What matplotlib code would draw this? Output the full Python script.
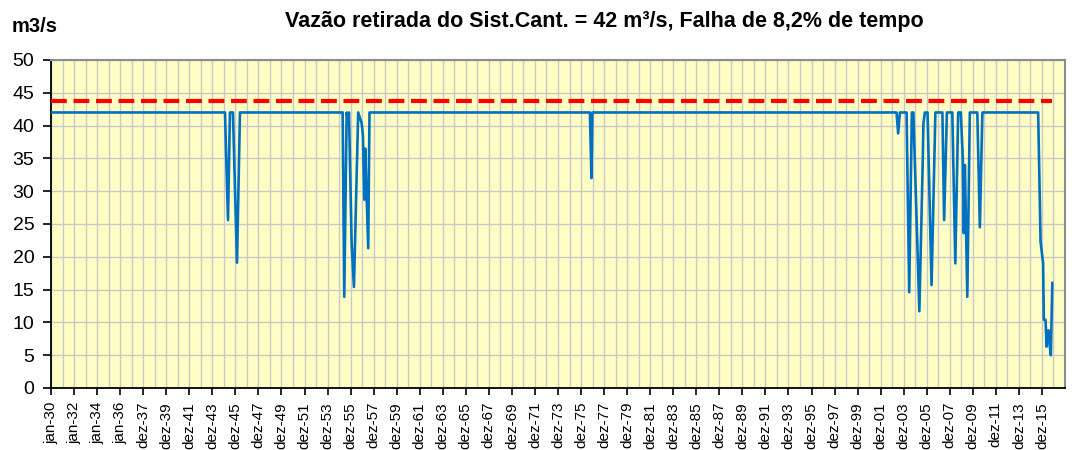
import matplotlib
matplotlib.use("Agg")
import matplotlib.pyplot as plt
import numpy as np

plt.rcParams['font.family'] = ['Liberation Sans', 'DejaVu Sans']

# Tick labels (category axis, one label every 24 months)
tick_labels = (["jan-30", "jan-32", "jan-34", "jan-36"] +
               ["dez-%02d" % (y % 100) for y in range(1937, 2016, 2)])

# Flow series: position along the axis (in years from jan-30) and value (m3/s)
t_flow = [0.00, 15.10, 15.36, 15.53, 15.79, 16.14, 16.40,
          25.31, 25.45, 25.66, 25.77, 25.86, 26.09, 26.29, 26.66, 26.96, 27.07,
          27.19, 27.27, 27.53, 27.64,
          46.77, 46.90, 46.99,
          73.38, 73.52, 73.67, 74.25, 74.48, 74.71, 74.84, 75.36, 75.66, 75.71,
          75.84, 76.07, 76.42, 76.75, 77.36, 77.51, 77.75, 78.22, 78.48, 78.73,
          78.96, 79.13, 79.22, 79.31, 79.52, 79.74, 80.39, 80.61, 80.83,
          85.67, 85.88, 86.10, 86.16, 86.31, 86.40, 86.55, 86.62, 86.77, 86.90]
v_flow = [42.0, 42.0, 25.6, 42.0, 42.0, 19.1, 42.0,
          42.0, 13.9, 42.0, 41.0, 42.0, 22.0, 15.4, 42.0, 40.4, 38.5,
          28.7, 36.5, 21.3, 42.0,
          42.0, 32.0, 42.0,
          42.0, 38.8, 42.0, 42.0, 14.6, 42.0, 42.0, 11.7, 35.0, 40.3,
          42.0, 42.0, 15.7, 42.0, 42.0, 25.6, 42.0, 42.0, 19.0, 42.0,
          42.0, 35.0, 23.6, 34.0, 13.9, 42.0, 42.0, 24.5, 42.0,
          42.0, 22.3, 19.0, 10.4, 10.4, 6.3, 8.8, 7.3, 5.0, 16.0]

# Reference (demand) line
t_ref = [0.00, 86.90]
v_ref = [43.8, 43.8]

fig = plt.figure(figsize=(10.75, 4.5), dpi=100)
ax = fig.add_axes([51/1075, 1-388/450, (1065-51)/1075, (388-60)/450])
ax.set_facecolor('#FFFFC5')

ax.plot(t_ref, v_ref, color='#FF0000', lw=3.0, dashes=(3.8, 1.6), zorder=3,
        solid_capstyle='butt', dash_capstyle='butt')
ax.plot(t_flow, v_flow, color='#0070C0', lw=1.9, zorder=4)

n = len(tick_labels)
ax.set_xlim(0, 2*n)
ax.set_ylim(0, 50)
ax.set_xticks([2*i for i in range(n)])
ax.set_xticklabels(tick_labels, rotation=90, fontsize=11)
ax.set_xticks(np.arange(0, 2*n+1, 1), minor=True)
ax.set_yticks(np.arange(0, 51, 5))
ax.tick_params(axis='y', labelsize=14, length=6, width=1.2, color='black', pad=6)
ax.tick_params(axis='x', which='major', length=5, width=1.2, color='black', pad=5)
ax.tick_params(axis='x', which='minor', length=0)

ax.grid(True, which='both', axis='x', color='#C8C8C8', lw=1.0, zorder=0)
ax.grid(True, which='major', axis='y', color='#C8C8C8', lw=1.0, zorder=0)
ax.set_axisbelow(True)

for s in ['left', 'bottom']:
    ax.spines[s].set_color('black')
    ax.spines[s].set_linewidth(1.3)
for s in ['top', 'right']:
    ax.spines[s].set_color('#8C8C8C')
    ax.spines[s].set_linewidth(1.5)

fig.text(604/1075, 1-22/450,
         "Vazão retirada do Sist.Cant. = 42 m³/s, Falha de 8,2% de tempo",
         ha='center', va='center', fontsize=15.5, fontweight='bold')
fig.text(12/1075, 1-26/450, "m3/s", ha='left', va='center', fontsize=14.5,
         fontweight='bold')

fig.savefig("out.png", dpi=100)
